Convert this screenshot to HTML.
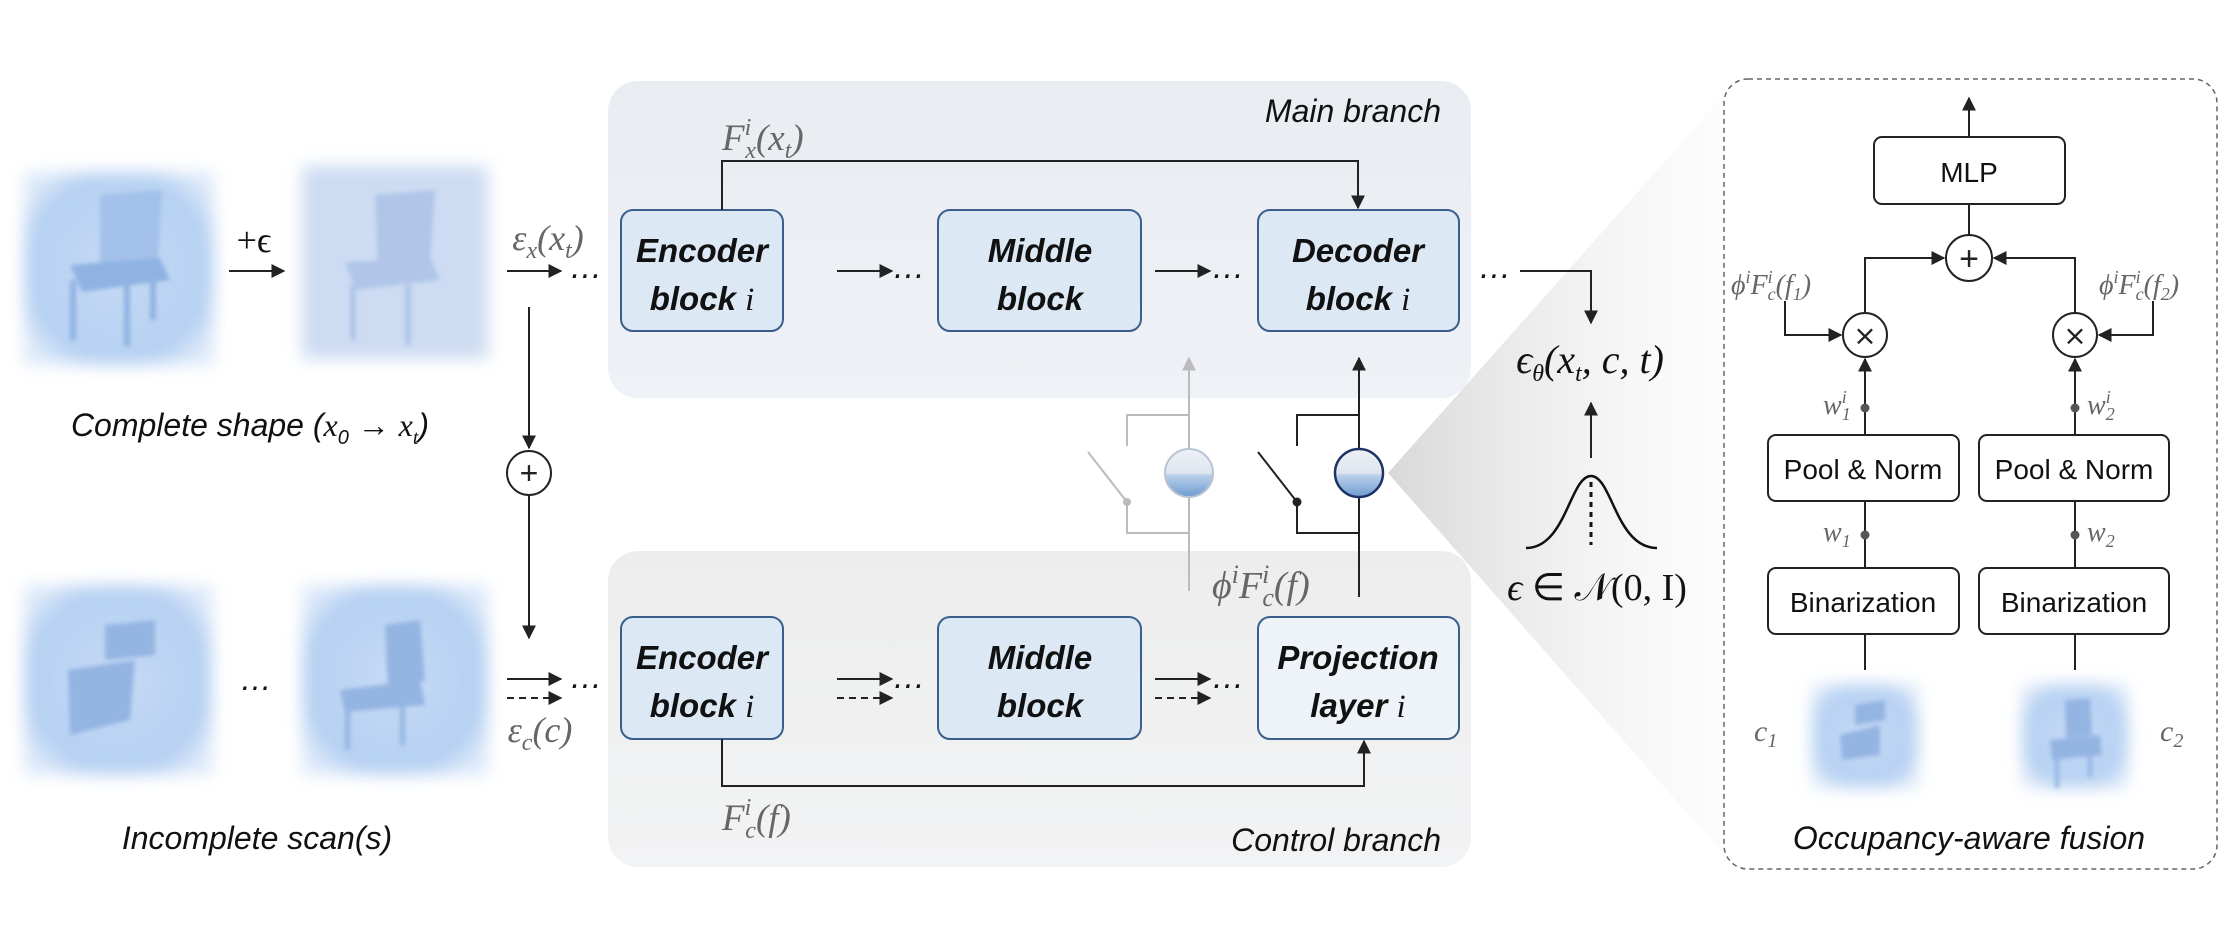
<!DOCTYPE html>
<html><head><meta charset="utf-8">
<style>
html,body{margin:0;padding:0;background:#fff;}
svg{display:block;}
.blk{font-family:"Liberation Sans",sans-serif;font-weight:bold;font-style:italic;font-size:33px;fill:#111;}
.m{font-family:"Liberation Serif",serif;font-style:italic;fill:#666;}
.lab{font-family:"Liberation Sans",sans-serif;font-style:italic;font-size:32px;fill:#111;}
.box{font-family:"Liberation Sans",sans-serif;font-size:28px;fill:#111;}
</style></head><body>
<svg width="2228" height="945" viewBox="0 0 2228 945" xmlns="http://www.w3.org/2000/svg">
<defs>
<marker id="ar" viewBox="0 0 10 10" refX="9" refY="5" markerWidth="7" markerHeight="7" orient="auto-start-reverse"><path d="M0,0 L10,5 L0,10 z" fill="#222"/></marker>
<marker id="arg" viewBox="0 0 10 10" refX="9" refY="5" markerWidth="7" markerHeight="7" orient="auto"><path d="M0,0 L10,5 L0,10 z" fill="#bbb"/></marker>
<linearGradient id="pt" x1="0" y1="0" x2="0" y2="1"><stop offset="0" stop-color="#e9edf2"/><stop offset="1" stop-color="#eef1f5"/></linearGradient>
<linearGradient id="pb" x1="0" y1="0" x2="0" y2="1"><stop offset="0" stop-color="#ededed"/><stop offset="1" stop-color="#f2f3f4"/></linearGradient>
<linearGradient id="sw" x1="0" y1="0" x2="0" y2="1"><stop offset="0" stop-color="#eef1f6"/><stop offset="0.5" stop-color="#dfe6ef"/><stop offset="0.55" stop-color="#b8cfea"/><stop offset="1" stop-color="#6f9bd0"/></linearGradient>
<linearGradient id="wg" x1="0" y1="0" x2="1" y2="0"><stop offset="0" stop-color="#d8d8d8"/><stop offset="1" stop-color="#f6f6f6" stop-opacity="0.3"/></linearGradient>
<radialGradient id="cub" cx="0.5" cy="0.5" r="0.6"><stop offset="0" stop-color="#c6dbf5"/><stop offset="0.8" stop-color="#b5d0f2"/><stop offset="1" stop-color="#dde9f9"/></radialGradient>
<filter id="bl" x="-20%" y="-20%" width="140%" height="140%"><feGaussianBlur stdDeviation="8"/></filter>
<filter id="bl2"><feGaussianBlur stdDeviation="2"/></filter>
</defs>

<!-- panels -->
<rect x="608" y="81" width="863" height="317" rx="30" fill="url(#pt)"/>
<rect x="608" y="551" width="863" height="316" rx="30" fill="url(#pb)"/>

<!-- wedge -->
<polygon points="1388,473 1724,95 1724,855" fill="url(#wg)"/>

<!-- chairs -->
<g>
 <rect x="24" y="172" width="190" height="193" fill="url(#cub)" filter="url(#bl)"/>
 <g fill="#8fb2e2" filter="url(#bl2)"><path d="M100,195 L162,190 L158,262 L100,270z" fill="#a3c1ea"/><path d="M70,265 L160,258 L170,280 L82,292z"/><rect x="70" y="280" width="6" height="60"/><rect x="124" y="286" width="6" height="60"/><rect x="150" y="275" width="6" height="45"/></g>
 <rect x="302" y="166" width="186" height="193" fill="#cddcf2" filter="url(#bl)"/>
 <g fill="#a9c0e6" filter="url(#bl2)" opacity="0.8"><path d="M375,195 L435,190 L430,265 L378,270z"/><path d="M345,262 L430,258 L440,280 L355,290z"/><rect x="350" y="285" width="6" height="55"/><rect x="405" y="285" width="6" height="60"/></g>
 <rect x="24" y="585" width="188" height="190" fill="url(#cub)" filter="url(#bl)"/>
 <g fill="#94b4e2" filter="url(#bl2)"><path d="M105,625 L155,620 L155,655 L105,660z"/><path d="M68,670 L135,660 L130,720 L70,735z"/></g>
 <rect x="302" y="585" width="186" height="190" fill="url(#cub)" filter="url(#bl)"/>
 <g fill="#94b4e2" filter="url(#bl2)"><path d="M385,625 L420,620 L425,680 L388,690z"/><path d="M340,690 L420,680 L425,705 L345,712z"/><rect x="345" y="705" width="5" height="45"/><rect x="400" y="705" width="5" height="40"/></g>
 <text x="256" y="690" class="lab" text-anchor="middle">…</text>
</g>

<!-- left labels & arrows -->
<text x="254" y="252" font-family="Liberation Serif" font-size="36" text-anchor="middle" fill="#111">+ϵ</text>
<line x1="229" y1="271" x2="284" y2="271" stroke="#222" stroke-width="2" marker-end="url(#ar)"/>
<text x="548" y="250" class="m" font-size="36" text-anchor="middle">ε<tspan font-size="24" dy="8">x</tspan><tspan dy="-8">(x</tspan><tspan font-size="24" dy="8">t</tspan><tspan dy="-8">)</tspan></text>
<line x1="507" y1="271" x2="561" y2="271" stroke="#222" stroke-width="2" marker-end="url(#ar)"/>
<text x="586" y="278" class="blk" style="font-weight:normal" text-anchor="middle">…</text>
<text x="250" y="436" class="lab" text-anchor="middle">Complete shape (<tspan class="m" style="fill:#111">x</tspan><tspan font-size="20" dy="8">0</tspan><tspan dy="-8"> → </tspan><tspan class="m" style="fill:#111">x</tspan><tspan class="m" style="fill:#111" font-size="20" dy="8">t</tspan><tspan dy="-8">)</tspan></text>
<line x1="529" y1="307" x2="529" y2="448" stroke="#222" stroke-width="2" marker-end="url(#ar)"/>
<circle cx="529" cy="473" r="22" fill="#fff" stroke="#222" stroke-width="2"/>
<text x="529" y="484" text-anchor="middle" font-family="Liberation Sans" font-size="32" fill="#222">+</text>
<line x1="529" y1="495" x2="529" y2="638" stroke="#222" stroke-width="2" marker-end="url(#ar)"/>
<line x1="507" y1="679" x2="561" y2="679" stroke="#222" stroke-width="2" marker-end="url(#ar)"/>
<line x1="507" y1="698" x2="561" y2="698" stroke="#222" stroke-width="2" stroke-dasharray="7,5" marker-end="url(#ar)"/>
<text x="586" y="688" class="blk" style="font-weight:normal" text-anchor="middle">…</text>
<text x="540" y="742" class="m" font-size="36" text-anchor="middle">ε<tspan font-size="24" dy="8">c</tspan><tspan dy="-8">(c)</tspan></text>
<text x="257" y="849" class="lab" text-anchor="middle">Incomplete scan(s)</text>

<!-- blocks -->
<g fill="#dce9f5" stroke="#3a5f8c" stroke-width="2">
<rect x="621" y="210" width="162" height="121" rx="12"/>
<rect x="938" y="210" width="203" height="121" rx="12"/>
<rect x="1258" y="210" width="201" height="121" rx="12"/>
<rect x="621" y="617" width="162" height="122" rx="12"/>
<rect x="938" y="617" width="203" height="122" rx="12"/>
</g>
<rect x="1258" y="617" width="201" height="122" rx="12" fill="#eef3f9" stroke="#3a5f8c" stroke-width="2"/>
<text class="blk" text-anchor="middle"><tspan x="702" y="262">Encoder</tspan><tspan x="702" y="310">block <tspan font-family="Liberation Serif" style="font-weight:normal">i</tspan></tspan></text>
<text class="blk" text-anchor="middle"><tspan x="1040" y="262">Middle</tspan><tspan x="1040" y="310">block</tspan></text>
<text class="blk" text-anchor="middle"><tspan x="1358" y="262">Decoder</tspan><tspan x="1358" y="310">block <tspan font-family="Liberation Serif" style="font-weight:normal">i</tspan></tspan></text>
<text class="blk" text-anchor="middle"><tspan x="702" y="669">Encoder</tspan><tspan x="702" y="717">block <tspan font-family="Liberation Serif" style="font-weight:normal">i</tspan></tspan></text>
<text class="blk" text-anchor="middle"><tspan x="1040" y="669">Middle</tspan><tspan x="1040" y="717">block</tspan></text>
<text class="blk" text-anchor="middle"><tspan x="1358" y="669">Projection</tspan><tspan x="1358" y="717">layer <tspan font-family="Liberation Serif" style="font-weight:normal">i</tspan></tspan></text>

<g stroke="#222" stroke-width="2" fill="none">
<line x1="837" y1="271" x2="892" y2="271" marker-end="url(#ar)"/>
<line x1="1155" y1="271" x2="1210" y2="271" marker-end="url(#ar)"/>
<line x1="837" y1="679" x2="892" y2="679" marker-end="url(#ar)"/>
<line x1="837" y1="698" x2="892" y2="698" stroke-dasharray="7,5" marker-end="url(#ar)"/>
<line x1="1155" y1="679" x2="1210" y2="679" marker-end="url(#ar)"/>
<line x1="1155" y1="698" x2="1210" y2="698" stroke-dasharray="7,5" marker-end="url(#ar)"/>
<polyline points="722,210 722,161 1358,161 1358,208" marker-end="url(#ar)"/>
<polyline points="722,739 722,786 1364,786 1364,741" marker-end="url(#ar)"/>
<polyline points="1520,271 1591,271 1591,323" marker-end="url(#ar)"/>
<line x1="1591" y1="458" x2="1591" y2="403" marker-end="url(#ar)"/>
</g>
<g class="blk" style="font-weight:normal" text-anchor="middle">
<text x="909" y="278">…</text><text x="1228" y="278">…</text><text x="909" y="688">…</text><text x="1228" y="688">…</text><text x="1495" y="278">…</text></g>
<text x="722" y="150" class="m" font-size="37">F<tspan font-size="24" dy="-15">i</tspan><tspan font-size="24" dx="-6" dy="23">x</tspan><tspan dy="-8">(x</tspan><tspan font-size="24" dy="8">t</tspan><tspan dy="-8">)</tspan></text>
<text x="722" y="830" class="m" font-size="37">F<tspan font-size="24" dy="-15">i</tspan><tspan font-size="24" dx="-6" dy="23">c</tspan><tspan dy="-8">(f)</tspan></text>
<text x="1441" y="122" class="lab" text-anchor="end" font-size="33">Main branch</text>
<text x="1441" y="851" class="lab" text-anchor="end" font-size="33">Control branch</text>

<!-- switches -->
<g stroke="#bbb" stroke-width="2" fill="none">
<line x1="1189" y1="591" x2="1189" y2="358" marker-end="url(#arg)"/>
<polyline points="1189,415 1127,415 1127,446"/>
<polyline points="1189,533 1127,533 1127,502"/>
<line x1="1088" y1="452" x2="1127" y2="502"/>
</g>
<circle cx="1127" cy="502" r="4" fill="#bbb"/>
<circle cx="1189" cy="473" r="24" fill="url(#sw)" stroke="#b8c4d2" stroke-width="2"/>
<g stroke="#222" stroke-width="2" fill="none">
<line x1="1359" y1="597" x2="1359" y2="358" marker-end="url(#ar)"/>
<polyline points="1359,415 1297,415 1297,446"/>
<polyline points="1359,533 1297,533 1297,502"/>
<line x1="1258" y1="452" x2="1297" y2="502"/>
</g>
<circle cx="1297" cy="502" r="4.5" fill="#222"/>
<circle cx="1359" cy="473" r="24" fill="url(#sw)" stroke="#1d3366" stroke-width="2.5"/>
<text x="1212" y="598" class="m" font-size="38">ϕ<tspan font-size="26" dy="-15">i</tspan><tspan dy="15">F</tspan><tspan font-size="26" dy="-15">i</tspan><tspan font-size="26" dx="-7" dy="23">c</tspan><tspan dy="-8">(f)</tspan></text>

<!-- epsilon -->
<text x="1590" y="373" text-anchor="middle" font-family="Liberation Serif" font-style="italic" font-size="40" fill="#111">ϵ<tspan font-size="24" dy="8">θ</tspan><tspan dy="-8">(x</tspan><tspan font-size="24" dy="8">t</tspan><tspan dy="-8">, c, t)</tspan></text>
<path d="M1526,548 C1566,548 1570,476 1591,476 C1612,476 1616,548 1657,548" fill="none" stroke="#111" stroke-width="2.5"/>
<line x1="1591" y1="482" x2="1591" y2="545" stroke="#111" stroke-width="3" stroke-dasharray="5,5"/>
<text x="1597" y="600" text-anchor="middle" font-family="Liberation Serif" font-size="38" fill="#111"><tspan font-style="italic">ϵ</tspan> ∈ 𝒩(0, I)</text>

<!-- fusion box -->
<rect x="1724" y="79" width="493" height="790" rx="24" fill="#fff" stroke="#666" stroke-width="1.5" stroke-dasharray="5,4"/>
<rect x="1812" y="684" width="106" height="104" fill="url(#cub)" filter="url(#bl)"/>
<path d="M1840,735 L1880,725 L1880,755 L1842,760z M1855,705 L1885,700 L1885,720 L1855,725z" fill="#94b4e2" filter="url(#bl2)"/>
<rect x="2022" y="684" width="106" height="104" fill="url(#cub)" filter="url(#bl)"/>
<path d="M2065,700 L2090,698 L2092,735 L2066,738z M2050,740 L2100,735 L2102,755 L2052,760z M2055,758 h4 v30 h-4z M2088,755 h4 v22 h-4z" fill="#94b4e2" filter="url(#bl2)"/>
<g fill="#fff" stroke="#222" stroke-width="2">
<rect x="1874" y="137" width="191" height="67" rx="8"/>
<rect x="1768" y="435" width="191" height="66" rx="8"/>
<rect x="1979" y="435" width="190" height="66" rx="8"/>
<rect x="1768" y="568" width="191" height="66" rx="8"/>
<rect x="1979" y="568" width="190" height="66" rx="8"/>
</g>
<text x="1969" y="182" class="box" text-anchor="middle">MLP</text>
<text x="1863" y="479" class="box" text-anchor="middle">Pool &amp; Norm</text>
<text x="2074" y="479" class="box" text-anchor="middle">Pool &amp; Norm</text>
<text x="1863" y="612" class="box" text-anchor="middle">Binarization</text>
<text x="2074" y="612" class="box" text-anchor="middle">Binarization</text>
<g stroke="#222" stroke-width="2" fill="none">
<line x1="1969" y1="137" x2="1969" y2="98" marker-end="url(#ar)"/>
<line x1="1969" y1="204" x2="1969" y2="235"/>
<polyline points="1865,313 1865,258 1944,258" marker-end="url(#ar)"/>
<polyline points="2075,313 2075,258 1994,258" marker-end="url(#ar)"/>
<line x1="1865" y1="435" x2="1865" y2="359" marker-end="url(#ar)"/>
<line x1="2075" y1="435" x2="2075" y2="359" marker-end="url(#ar)"/>
<line x1="1865" y1="501" x2="1865" y2="568"/>
<line x1="2075" y1="501" x2="2075" y2="568"/>
<line x1="1865" y1="634" x2="1865" y2="670"/>
<line x1="2075" y1="634" x2="2075" y2="670"/>
<polyline points="1785,301 1785,335 1841,335" marker-end="url(#ar)"/>
<polyline points="2153,301 2153,335 2099,335" marker-end="url(#ar)"/>
</g>
<circle cx="1969" cy="258" r="23" fill="#fff" stroke="#222" stroke-width="2"/>
<text x="1969" y="270" text-anchor="middle" font-family="Liberation Sans" font-size="34" fill="#222">+</text>
<circle cx="1865" cy="335" r="22" fill="#fff" stroke="#222" stroke-width="2"/>
<circle cx="2075" cy="335" r="22" fill="#fff" stroke="#222" stroke-width="2"/>
<text x="1865" y="345" text-anchor="middle" font-family="DejaVu Sans" font-size="28" fill="#222">×</text>
<text x="2075" y="345" text-anchor="middle" font-family="DejaVu Sans" font-size="28" fill="#222">×</text>
<g fill="#555"><circle cx="1865" cy="408" r="4.5"/><circle cx="2075" cy="408" r="4.5"/><circle cx="1865" cy="535" r="4.5"/><circle cx="2075" cy="535" r="4.5"/></g>
<text x="1731" y="294" class="m" font-size="28">ϕ<tspan font-size="18" dy="-11">i</tspan><tspan dy="11">F</tspan><tspan font-size="18" dy="-11">i</tspan><tspan font-size="18" dx="-5" dy="17">c</tspan><tspan dy="-6">(f</tspan><tspan font-size="18" dy="6">1</tspan><tspan dy="-6">)</tspan></text>
<text x="2099" y="294" class="m" font-size="28">ϕ<tspan font-size="18" dy="-11">i</tspan><tspan dy="11">F</tspan><tspan font-size="18" dy="-11">i</tspan><tspan font-size="18" dx="-5" dy="17">c</tspan><tspan dy="-6">(f</tspan><tspan font-size="18" dy="6">2</tspan><tspan dy="-6">)</tspan></text>
<text x="1823" y="414" class="m" font-size="28">w<tspan font-size="18" dy="-11">i</tspan><tspan font-size="18" dx="-5" dy="17">1</tspan></text>
<text x="2087" y="414" class="m" font-size="28">w<tspan font-size="18" dy="-11">i</tspan><tspan font-size="18" dx="-5" dy="17">2</tspan></text>
<text x="1823" y="541" class="m" font-size="28">w<tspan font-size="18" dy="6">1</tspan></text>
<text x="2087" y="541" class="m" font-size="28">w<tspan font-size="18" dy="6">2</tspan></text>
<text x="1754" y="741" class="m" font-size="30">c<tspan font-size="20" dy="6">1</tspan></text>
<text x="2160" y="741" class="m" font-size="30">c<tspan font-size="20" dy="6">2</tspan></text>
<text x="1969" y="849" class="lab" text-anchor="middle">Occupancy-aware fusion</text>
</svg>
</body></html>
